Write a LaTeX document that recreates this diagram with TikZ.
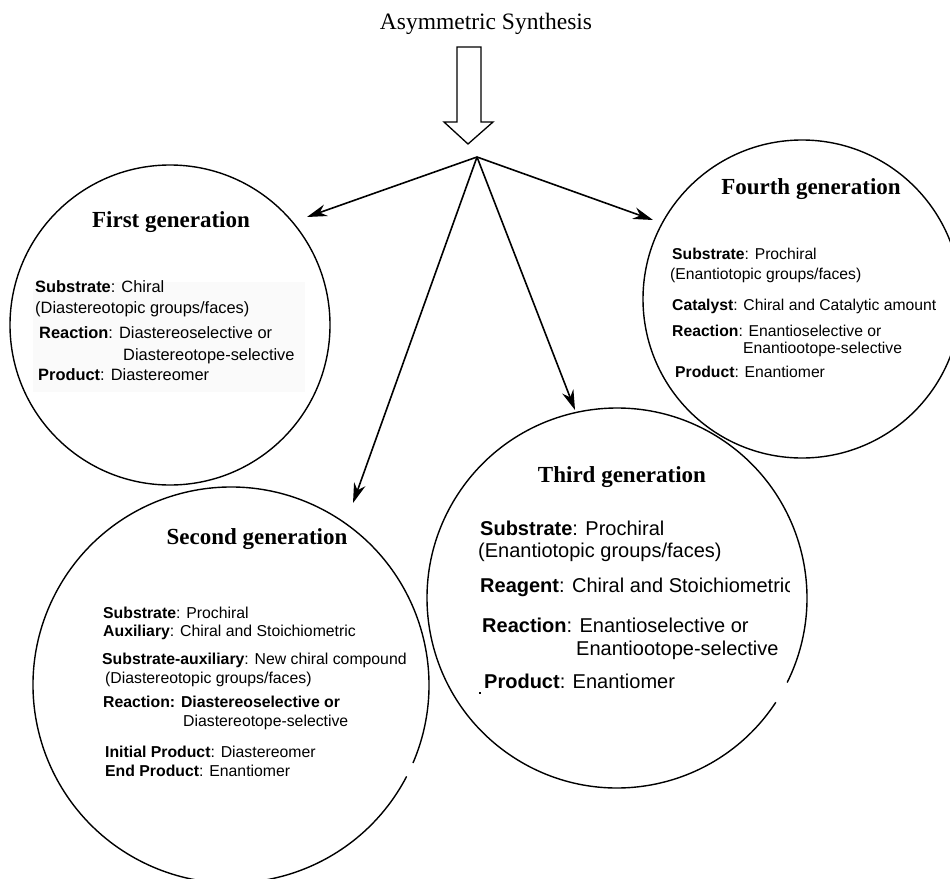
\documentclass[tikz,border=0pt]{standalone}
\usepackage{fontspec}
\setmainfont{Liberation Serif}
\newfontfamily\arialf{Liberation Sans}
\usetikzlibrary{arrows.meta}
\begin{document}
\begin{tikzpicture}[x=1pt,y=-1pt,
  ring/.style={line width=1.4pt},
  link/.style={line width=1.6pt,-{Stealth[length=20pt,width=12pt]}},
  head/.style={anchor=base,inner sep=0pt,font=\bfseries\fontsize{23}{27}\selectfont},
  bodyA/.style={anchor=base west,inner sep=0pt,font=\arialf\fontsize{16.4}{19}\selectfont},
  bodyB/.style={anchor=base west,inner sep=0pt,font=\arialf\fontsize{15.8}{19}\selectfont},
  bodyC/.style={anchor=base west,inner sep=0pt,font=\arialf\fontsize{20}{24}\selectfont},
  bodyD/.style={anchor=base west,inner sep=0pt,font=\arialf\fontsize{15.7}{19}\selectfont}]
\clip (0,0) rectangle (950,878);
\fill[white] (0,0) rectangle (950,878);

% title and hollow arrow
\node[anchor=base,inner sep=0pt,font=\fontsize{23.5}{28}\selectfont] (title) at (486,29) {Asymmetric Synthesis};
\draw[line width=1.3pt,line join=miter] (457,47) -- (481,47) -- (481,122) -- (493,122) -- (468,144) -- (444,122) -- (457,122) -- cycle;

% circles
\coordinate (c1) at (170,325);
\coordinate (c2) at (231,685);
\coordinate (c3) at (617,598);
\coordinate (c4) at (802,299);
\fill[black!2] (33,282) rectangle (305,392);
\draw[ring] (c1) circle[radius=160];
\draw[ring] (c2) ++(27.5:198) arc[start angle=27.5,end angle=383.2,radius=198];
\draw[ring] (c3) ++(33.3:190) arc[start angle=33.3,end angle=386.4,radius=190];
\draw[ring] (c4) circle[radius=159];

% connectors
\coordinate (hub) at (477,157);
\coordinate (tipA) at (307,217);
\coordinate (tipB) at (353,503);
\coordinate (tipC) at (575,410);
\coordinate (tipD) at (653,220);
\draw[link] (hub) -- (tipA);
\draw[link] (hub) -- (tipB);
\draw[link] (hub) -- (tipC);
\draw[link] (hub) -- (tipD);

% first generation
\node[head] (h1) at (171,227) {First generation};
\node[bodyA] (f1) at (35,292) {\textbf{Substrate}: Chiral};
\node[bodyA] (f2) at (35,313) {(Diastereotopic groups/faces)};
\node[bodyA] (f3) at (39,338) {\textbf{Reaction}: Diastereoselective or};
\node[bodyA] (f4) at (123,360) {Diastereotope-selective};
\node[bodyA] (f5) at (38,380) {\textbf{Product}: Diastereomer};

% second generation
\node[head] (h2) at (257,544) {Second generation};
\node[bodyB] (s1) at (103,618) {\textbf{Substrate}: Prochiral};
\node[bodyB] (s2) at (103,636) {\textbf{Auxiliary}: Chiral and Stoichiometric};
\node[bodyB] (s3) at (102,664) {\textbf{Substrate-auxiliary}: New chiral compound};
\node[bodyB] (s4) at (105,683) {(Diastereotopic groups/faces)};
\node[bodyB] (s5) at (103,707) {\textbf{Reaction: Diastereoselective or}};
\node[bodyB] (s6) at (183,726) {Diastereotope-selective};
\node[bodyB] (s7) at (105,757) {\textbf{Initial Product}: Diastereomer};
\node[bodyB] (s8) at (105,776) {\textbf{End Product}: Enantiomer};

% third generation
\node[head] (h3) at (622,482) {Third generation};
\node[bodyC] (r1) at (480,535) {\textbf{Substrate}: Prochiral};
\node[bodyC] (r2) at (478,557) {(Enantiotopic groups/faces)};
\begin{scope}
\clip (470,570) rectangle (789,600);
\node[bodyC] (r3) at (480,592) {\textbf{Reagent}: Chiral and Stoichiometric};
\end{scope}
\node[bodyC] (r4) at (482,632) {\textbf{Reaction}: Enantioselective or};
\node[bodyC] (r5) at (576,655) {Enantiootope-selective};
\node[bodyC] (r6) at (484,688) {\textbf{Product}: Enantiomer};
\fill (479,692) rectangle (481,694);

% fourth generation
\node[head] (h4) at (811,194) {Fourth generation};
\node[bodyD] (q1) at (672,259) {\textbf{Substrate}: Prochiral};
\node[bodyD] (q2) at (670,279) {(Enantiotopic groups/faces)};
\node[bodyD] (q3) at (672,310) {\textbf{Catalyst}: Chiral and Catalytic amount};
\node[bodyD] (q4) at (672,336) {\textbf{Reaction}: Enantioselective or};
\node[bodyD] (q5) at (743,353) {Enantiootope-selective};
\node[bodyD] (q6) at (675,377) {\textbf{Product}: Enantiomer};
\end{tikzpicture}
\end{document}
